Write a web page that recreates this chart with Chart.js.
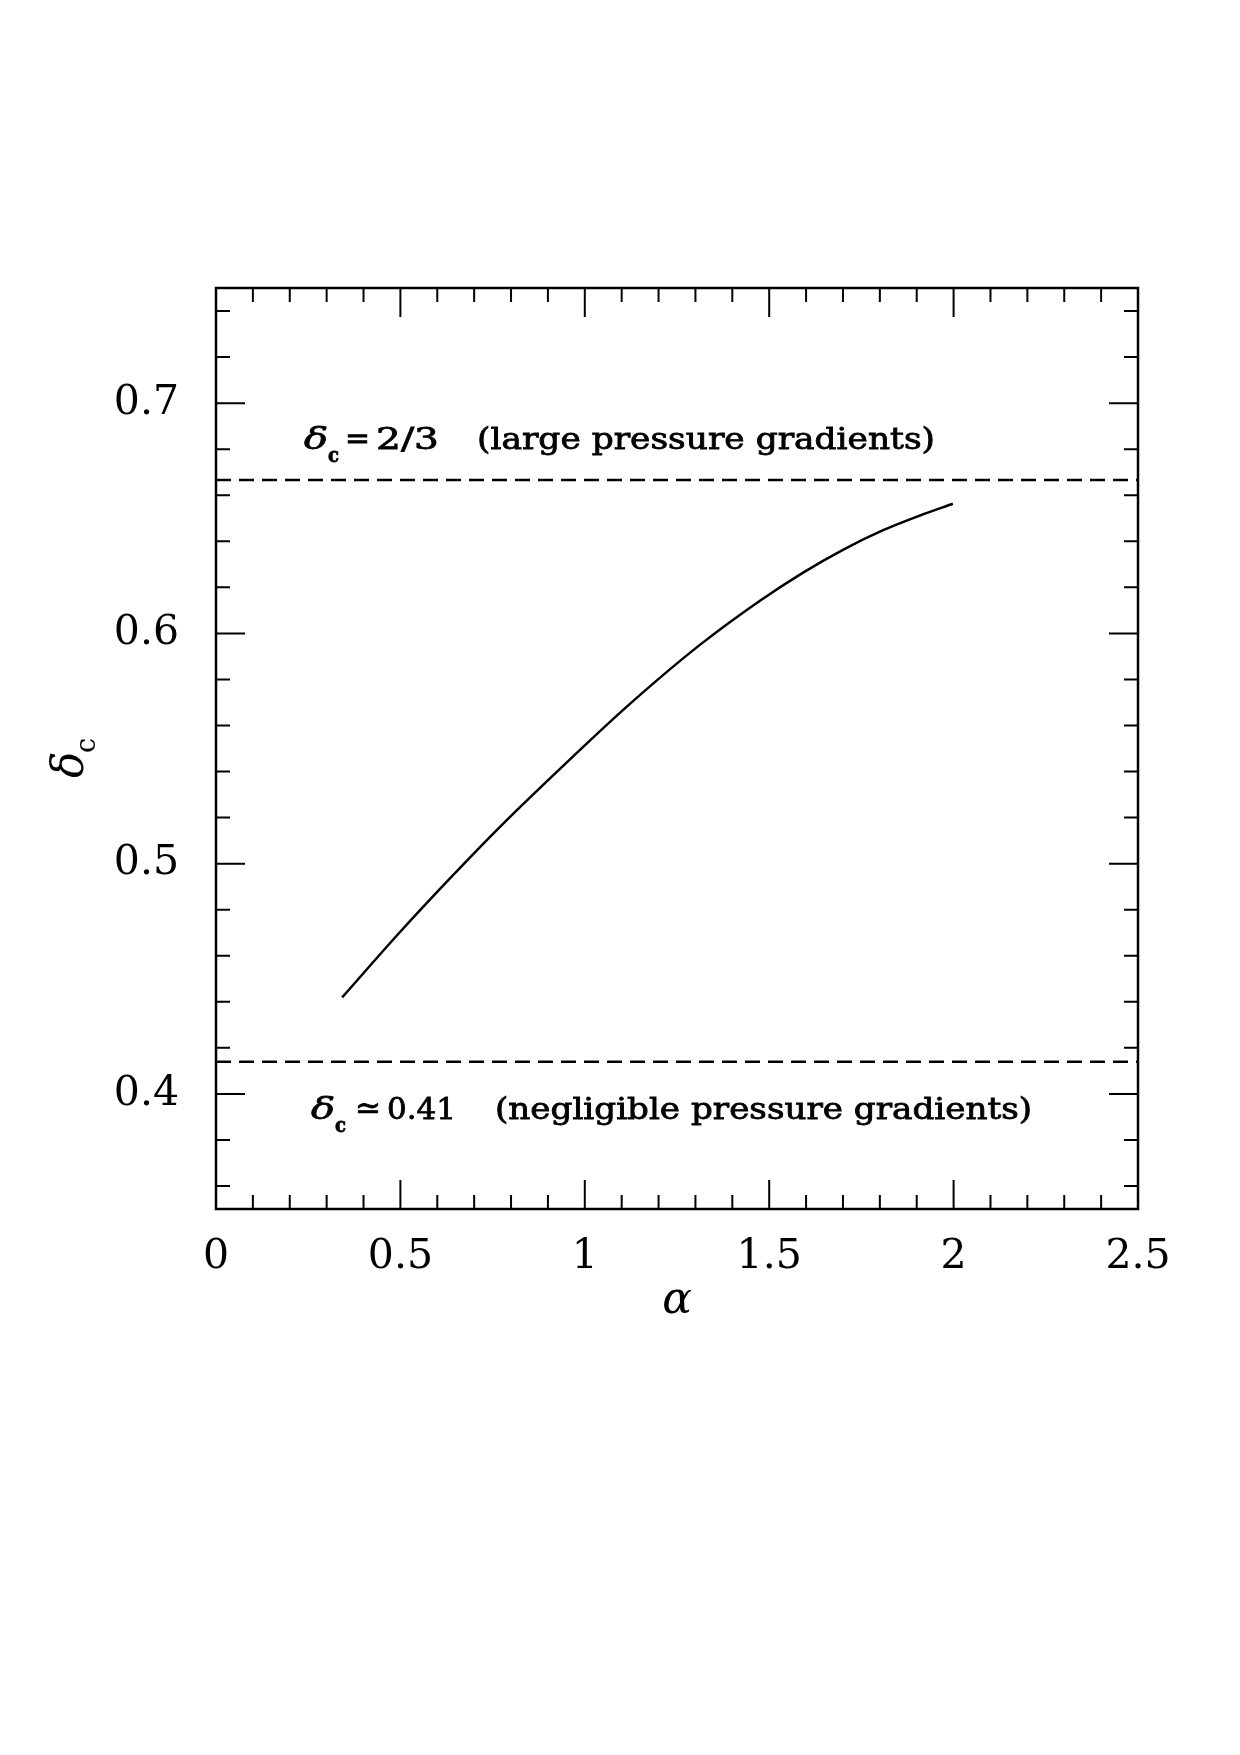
<!DOCTYPE html>
<html>
<head>
<meta charset="utf-8">
<script src="https://cdn.jsdelivr.net/npm/chart.js@4.4.1/dist/chart.umd.min.js"></script>
<style>
  html, body { margin: 0; padding: 0; background: #fff; }
  canvas { display: block; }
</style>
</head>
<body>
<canvas id="myChart" width="1240" height="1755"></canvas>
<script>
// delta_c en fonction de alpha
var alphaVals = [0.342, 0.499, 0.635, 0.770, 0.952, 1.114, 1.312, 1.475, 1.592, 1.700, 1.809, 1.909, 1.998];
var deltaVals = [0.4419, 0.4703, 0.4937, 0.5160, 0.5441, 0.5682, 0.5950, 0.6142, 0.6264, 0.6363, 0.6448, 0.6512, 0.6563];
var deltaLarge = 2 / 3;
var deltaSmall = 0.414;
var xTicks = [0, 0.5, 1, 1.5, 2, 2.5];
var yTicks = [0.4, 0.5, 0.6, 0.7];

var curve = alphaVals.map((a, i) => ({x: a, y: deltaVals[i]}));

function fitText(ctx, txt, x, y, w) {
    var m = ctx.measureText(txt).width;
    ctx.save();
    ctx.translate(x, y);
    ctx.scale(w / m, 1);
    ctx.fillText(txt, 0, 0);
    ctx.lineWidth = 0.8;
    ctx.strokeText(txt, 0, 0);
    ctx.restore();
}

// dessine "δc <sym> <val>   (<texte>)" a partir de x, ligne de base yb
function drawLabel(ctx, x, yb, d, sym, val, txt) {
    ctx.font = 'italic 30px "DejaVu Serif"';
    fitText(ctx, 'δ', x + d[0], yb, 24);
    ctx.font = 'bold 20px "DejaVu Serif"';
    fitText(ctx, 'c', x + d[1], yb + 13, 11);
    ctx.font = '30px "DejaVu Serif"';
    fitText(ctx, sym, x + d[2], yb - 1, d[3]);
    fitText(ctx, val, x + d[4], yb, d[5]);
    ctx.font = '29px "DejaVu Serif"';
    fitText(ctx, txt, x + d[6], yb, d[7]);
}

const framePlugin = {
    id: 'frame',
    afterDraw(chart) {
        const ctx = chart.ctx, a = chart.chartArea;
        const xs = chart.scales.x, ys = chart.scales.y;
        ctx.save();
        ctx.strokeStyle = '#000';
        ctx.fillStyle = '#000';
        ctx.lineWidth = 2;
        ctx.beginPath();
        for (let i = 0; i <= 25; i++) {
            const px = xs.getPixelForValue(i / 10);
            const len = (i % 5 == 0) ? 29 : 14;
            ctx.moveTo(px, a.bottom); ctx.lineTo(px, a.bottom - len);
            ctx.moveTo(px, a.top); ctx.lineTo(px, a.top + len);
        }
        for (let i = 18; i <= 37; i++) {
            const py = ys.getPixelForValue(i / 50);
            const len = (i % 5 == 0) ? 29 : 14;
            ctx.moveTo(a.left, py); ctx.lineTo(a.left + len, py);
            ctx.moveTo(a.right, py); ctx.lineTo(a.right - len, py);
        }
        ctx.stroke();
        ctx.lineWidth = 2.5;
        ctx.strokeRect(a.left, a.top, a.right - a.left, a.bottom - a.top);

        // annotations
        const x0 = xs.getPixelForValue(0);
        ctx.textAlign = 'left';
        ctx.textBaseline = 'alphabetic';
        drawLabel(ctx, x0, ys.getPixelForValue(deltaLarge) - 31,
            [88, 112, 129, 25, 160, 63, 261, 458], '=', '2/3', '(large pressure gradients)');
        drawLabel(ctx, x0, ys.getPixelForValue(deltaSmall) + 57,
            [95, 119, 139, 26, 171, 69, 279, 537], '≃', '0.41', '(negligible pressure gradients)');

        // axis titles
        ctx.font = 'italic 44px "DejaVu Serif"';
        ctx.textAlign = 'center';
        ctx.fillText('α', xs.getPixelForValue(1.25), a.bottom + 104);
        ctx.save();
        ctx.translate(a.left - 133, a.top + 490);
        ctx.rotate(-Math.PI / 2);
        ctx.textAlign = 'left';
        ctx.fillText('δ', 0, 0);
        ctx.font = '27px "DejaVu Serif"';
        ctx.fillText('c', 25, 12);
        ctx.restore();
        ctx.restore();
    }
};

config = {
    type: 'scatter',
    data: {
        datasets: [{
            data: curve,
            showLine: true,
            borderColor: '#000',
            borderWidth: 2.5,
            pointRadius: 0,
            cubicInterpolationMode: 'monotone'
        },
        {
            data: [{x: 0, y: deltaLarge}, {x: 2.5, y: deltaLarge}],
            showLine: true,
            borderColor: '#000',
            borderWidth: 2.5,
            borderDash: [15, 8],
            pointRadius: 0
        },
        {
            data: [{x: 0, y: deltaSmall}, {x: 2.5, y: deltaSmall}],
            showLine: true,
            borderColor: '#000',
            borderWidth: 2.5,
            borderDash: [15, 8],
            pointRadius: 0
        }]
    },
    options: {
        responsive: false,
        animation: false,
        devicePixelRatio: 1,
        layout: {
            padding: {top: 288, right: 102, bottom: 0, left: 0}
        },
        plugins: {
            legend: {display: false},
            tooltip: {enabled: false}
        },
        scales: {
            x: {
                type: 'linear',
                min: 0,
                max: 2.5,
                grid: {display: false},
                border: {display: false},
                afterBuildTicks: (axis) => { axis.ticks = xTicks.map(v => ({value: v})); },
                afterFit: (scale) => { scale.height = 546; },
                ticks: {
                    color: '#000',
                    padding: 16,
                    maxRotation: 0,
                    font: {family: 'DejaVu Serif', size: 41},
                    callback: (v) => String(v)
                }
            },
            y: {
                type: 'linear',
                min: 0.35,
                max: 0.75,
                grid: {display: false},
                border: {display: false},
                afterBuildTicks: (axis) => { axis.ticks = yTicks.map(v => ({value: v})); },
                afterFit: (scale) => { scale.width = 216; },
                ticks: {
                    color: '#000',
                    padding: 29,
                    font: {family: 'DejaVu Serif', size: 41},
                    callback: (v) => String(v)
                }
            }
        }
    },
    plugins: [framePlugin]
};

const ctx = document.getElementById('myChart');
const myChart = new Chart(ctx, config);
</script>
</body>
</html>
